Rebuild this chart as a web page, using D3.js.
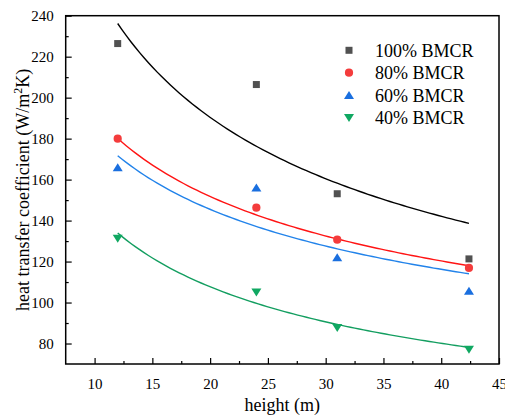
<!DOCTYPE html>
<html>
<head>
<meta charset="utf-8">
<script src="https://cdn.jsdelivr.net/npm/d3@7"></script>
<style>
  html, body { margin: 0; padding: 0; background: #fff; }
  svg { display: block; }
  svg text { font-family: "Liberation Serif", "Times New Roman", serif; }
</style>
</head>
<body>
<svg id="chart" width="505" height="419"></svg>
<script>
// Measurement heights (m)
const heights = [12, 24, 31, 42.4];

// Load cases
const seriesNames = ["100% BMCR", "80% BMCR", "60% BMCR", "40% BMCR"];

// Heat transfer coefficient (W/m²K) per load case
const values100 = [226.4, 206.4, 153.1, 121.3];
const values80 = [180.0, 146.3, 130.7, 116.9];
const values60 = [165.9, 156.0, 122.0, 105.6];
const values40 = [131.2, 105.0, 87.7, 77.1];

// Power-law fit y = a * x^b for each load case
const fitA = [674, 414, 384, 387];
const fitB = [-0.422, -0.335, -0.324, -0.427];
const fitRange = [12, 42.4];

// Axis ticks
const xTicks = [10, 15, 20, 25, 30, 35, 40, 45];
const yTicks = [80, 100, 120, 140, 160, 180, 200, 220, 240];

const markerColors = ["#515151", "#f43c3c", "#1a6fdf", "#10a862"];
const lineColors = ["#000000", "#ff1414", "#2283ea", "#139e60"];
const markerShapes = ["square", "circle", "triUp", "triDown"];

const series = seriesNames.map((name, i) => ({
  name,
  values: [values100, values80, values60, values40][i],
  a: fitA[i], b: fitB[i],
  marker: markerColors[i], line: lineColors[i], shape: markerShapes[i]
}));

const serif = "'Liberation Serif', 'Times New Roman', serif";
const svg = d3.select("#chart");
const plotLeft = 65.7, plotRight = 499, plotTop = 15.7, plotBottom = 364;

const x = d3.scaleLinear().domain([7.5, 45]).range([plotLeft, plotRight]);
const y = d3.scaleLinear().domain([70, 240]).range([plotBottom, plotTop]);

// Fitted curves
const nSamples = 80;
const fitXs = d3.range(nSamples + 1).map(k => fitRange[0] + (fitRange[1] - fitRange[0]) * k / nSamples);
const line = d3.line().x(d => x(d[0])).y(d => y(d[1]));

const plot = svg.append("g");
series.forEach(s => {
  plot.append("path")
    .datum(fitXs.map(h => [h, s.a * Math.pow(h, s.b)]))
    .attr("d", line)
    .attr("fill", "none")
    .attr("stroke", s.line)
    .attr("stroke-width", 1.4);
});

function drawMarker(g, shape, cx, cy, color) {
  if (shape === "square") {
    g.append("rect").attr("x", cx - 3.5).attr("y", cy - 3.5)
      .attr("width", 7).attr("height", 7).attr("fill", color);
  } else if (shape === "circle") {
    g.append("circle").attr("cx", cx).attr("cy", cy).attr("r", 4.1).attr("fill", color);
  } else if (shape === "triUp") {
    g.append("path").attr("d", `M${cx},${cy - 4.2}L${cx + 5},${cy + 3.8}L${cx - 5},${cy + 3.8}Z`).attr("fill", color);
  } else {
    g.append("path").attr("d", `M${cx},${cy + 4.2}L${cx + 5},${cy - 3.8}L${cx - 5},${cy - 3.8}Z`).attr("fill", color);
  }
}

// Data markers
series.forEach(s => {
  const g = plot.append("g");
  s.values.forEach((v, j) => drawMarker(g, s.shape, x(heights[j]), y(v), s.marker));
});

// Axes: ticks point inward
const xAxis = d3.axisBottom(x).tickValues(xTicks).tickSize(-6).tickPadding(14).tickFormat(d3.format("d"));
const yAxis = d3.axisLeft(y).tickValues(yTicks).tickSize(-6).tickPadding(12).tickFormat(d3.format("d"));

const gx = svg.append("g").attr("transform", `translate(0,${plotBottom})`).call(xAxis);
const gy = svg.append("g").attr("transform", `translate(${plotLeft},0)`).call(yAxis);

// Minor ticks
const xMinor = xTicks.slice(0, -1).map(t => t + 2.5);
const yMinor = d3.range(90, 240, 20);
gx.append("g").call(d3.axisBottom(x).tickValues(xMinor).tickSize(-3).tickFormat(""));
gy.append("g").call(d3.axisLeft(y).tickValues(yMinor).tickSize(-3).tickFormat(""));

[gx, gy].forEach(g => {
  g.attr("font-family", serif).attr("font-size", 15);
  g.selectAll(".domain").remove();
  g.selectAll("line").attr("stroke", "#000").attr("stroke-width", 1.2);
  g.selectAll("text").attr("fill", "#000");
});

// Frame
svg.append("rect")
  .attr("x", plotLeft).attr("y", plotTop)
  .attr("width", plotRight - plotLeft).attr("height", plotBottom - plotTop)
  .attr("fill", "none").attr("stroke", "#000").attr("stroke-width", 1.5);

// Axis titles
svg.append("text")
  .attr("x", (plotLeft + plotRight) / 2).attr("y", 411)
  .attr("text-anchor", "middle")
  .attr("font-family", serif).attr("font-size", 18)
  .text("height (m)");

const yTitle = svg.append("text")
  .attr("transform", `translate(29,${(plotTop + plotBottom) / 2}) rotate(-90)`)
  .attr("text-anchor", "middle")
  .attr("font-family", serif).attr("font-size", 18);
yTitle.append("tspan").text("heat transfer coefficient (W/m");
yTitle.append("tspan").attr("dy", -7).attr("font-size", 12).text("2");
yTitle.append("tspan").attr("dy", 7).text("K)");

// Legend
const legend = svg.append("g");
const legendY = [50.3, 72.7, 95.3, 117.7];
series.forEach((s, i) => {
  drawMarker(legend, s.shape, 349, legendY[i], s.marker);
  legend.append("text")
    .attr("x", 375).attr("y", legendY[i] + 6.5)
    .attr("font-family", serif).attr("font-size", 18)
    .text(s.name);
});
</script>
</body>
</html>
